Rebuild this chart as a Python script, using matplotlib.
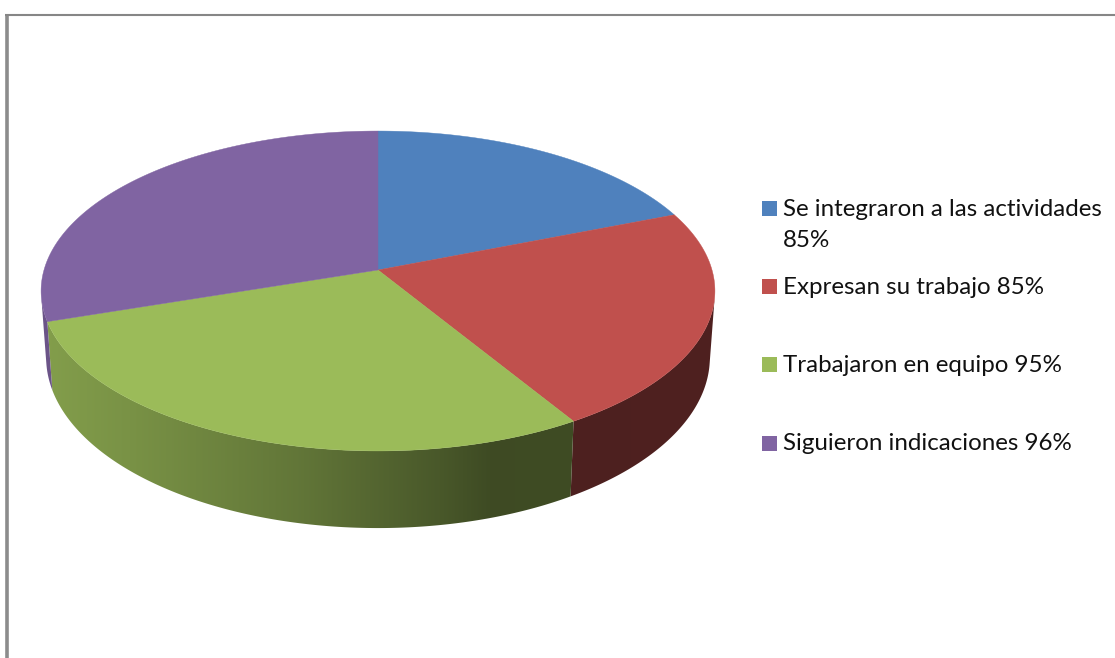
import numpy as np
import matplotlib
matplotlib.use("Agg")
import matplotlib.pyplot as plt
from matplotlib.patches import Rectangle, Polygon

# Data
labels = [["Se integraron a las actividades", "85%"],
          ["Expresan su trabajo 85%"],
          ["Trabajaron en equipo 95%"],
          ["Siguieron indicaciones 96%"]]
shares = [19.0, 22.3, 28.6, 30.1]   # visible share of the pie, percent
colors = ["#4F81BD", "#C0504D", "#9BBB59", "#8064A2"]

# Style / geometry (pixels)
CX, CY = 378.0, 270.0
A, B, K = 334.0, 157.2, 0.1312
BOT_SX, BOT_SY, BOT_Y0 = 0.985, 1.067, 335.0
LEG_BOX_X, LEG_BOX = 762, 15
LEG_BOX_TOP = [201, 279, 357, 436]
LEG_BASE = [[216, 247], [294], [372], [450]]
FONT = "Lato"

fig = plt.figure(figsize=(11.15, 6.58), dpi=100, facecolor="white")
ax = fig.add_axes([0, 0, 1, 1])
ax.axis("off")


def top(a):
    X, Y = np.sin(a), np.cos(a)
    w = 1 + K * Y
    return CX + A * X / w, CY - B * Y / w


def bottom(a):
    X, Y = np.sin(a), np.cos(a)
    w = 1 + K * Y
    return CX + BOT_SX * A * X / w, BOT_Y0 - BOT_SY * B * Y / w


def shade(x):
    return np.interp(x, [50, 130, 300, 440, 490, 715], [0.84, 0.78, 0.63, 0.47, 0.40, 0.41])


def silhouette_angles():
    """Angles where the rim's side line is tangent to the top ellipse."""
    a = np.linspace(0, 2 * np.pi, 7201)
    tx, ty = top(a)
    bx, by = bottom(a)
    dx, dy = np.gradient(tx), np.gradient(ty)
    c = dx * (by - ty) - dy * (bx - tx)
    idx = np.where(np.sign(c[:-1]) != np.sign(c[1:]))[0]
    return sorted(a[idx])


tang = silhouette_angles()
a_right, a_left = tang[0], tang[-1]

edges = np.radians(np.concatenate([[0], np.cumsum(shares)]) / np.sum(shares) * 360)
grad_x = np.arange(0, 1115)

# Walls: a horizontal gradient clipped to the visible part of each slice's rim
for i, col in enumerate(colors):
    lo, hi = max(edges[i], a_right), min(edges[i + 1], a_left)
    if hi <= lo:
        continue
    rgb = np.array(matplotlib.colors.to_rgb(col))
    ang = np.linspace(lo, hi, 300)
    tx, ty = top(ang)
    bx, by = bottom(ang)
    band = Polygon(np.c_[np.r_[tx, bx[::-1]], np.r_[ty, by[::-1]]], closed=True,
                   transform=ax.transData, facecolor="none", edgecolor="none")
    ax.add_patch(band)
    grad = (shade(grad_x)[:, None] * rgb)[None, :, :]
    im = ax.imshow(grad, extent=(0, 1115, 658, 0), aspect="auto", interpolation="nearest", zorder=2)
    im.set_clip_path(band)

# Top faces
for i, col in enumerate(colors):
    ang = np.linspace(edges[i], edges[i + 1], 300)
    tx, ty = top(ang)
    ax.fill(np.r_[CX, tx], np.r_[CY, ty], facecolor=col, edgecolor=col, linewidth=0.3, zorder=3)

# Frame
ax.plot([6.5, 6.5], [658, 15], color="#8c8c8c", lw=2.6, solid_capstyle="butt", zorder=1)
ax.plot([5.2, 1115], [15, 15], color="#868686", lw=1.5, solid_capstyle="butt", zorder=1)

# Legend
for i, col in enumerate(colors):
    ax.add_patch(Rectangle((LEG_BOX_X, LEG_BOX_TOP[i]), LEG_BOX, LEG_BOX, facecolor=col, edgecolor="none", zorder=3))
    for line, base in zip(labels[i], LEG_BASE[i]):
        ax.text(783, base, line, fontsize=17.35, family=FONT, color="#111111", va="baseline", ha="left")

ax.set_xlim(0, 1115)
ax.set_ylim(658, 0)
fig.savefig("out.png", dpi=100, facecolor="white")
